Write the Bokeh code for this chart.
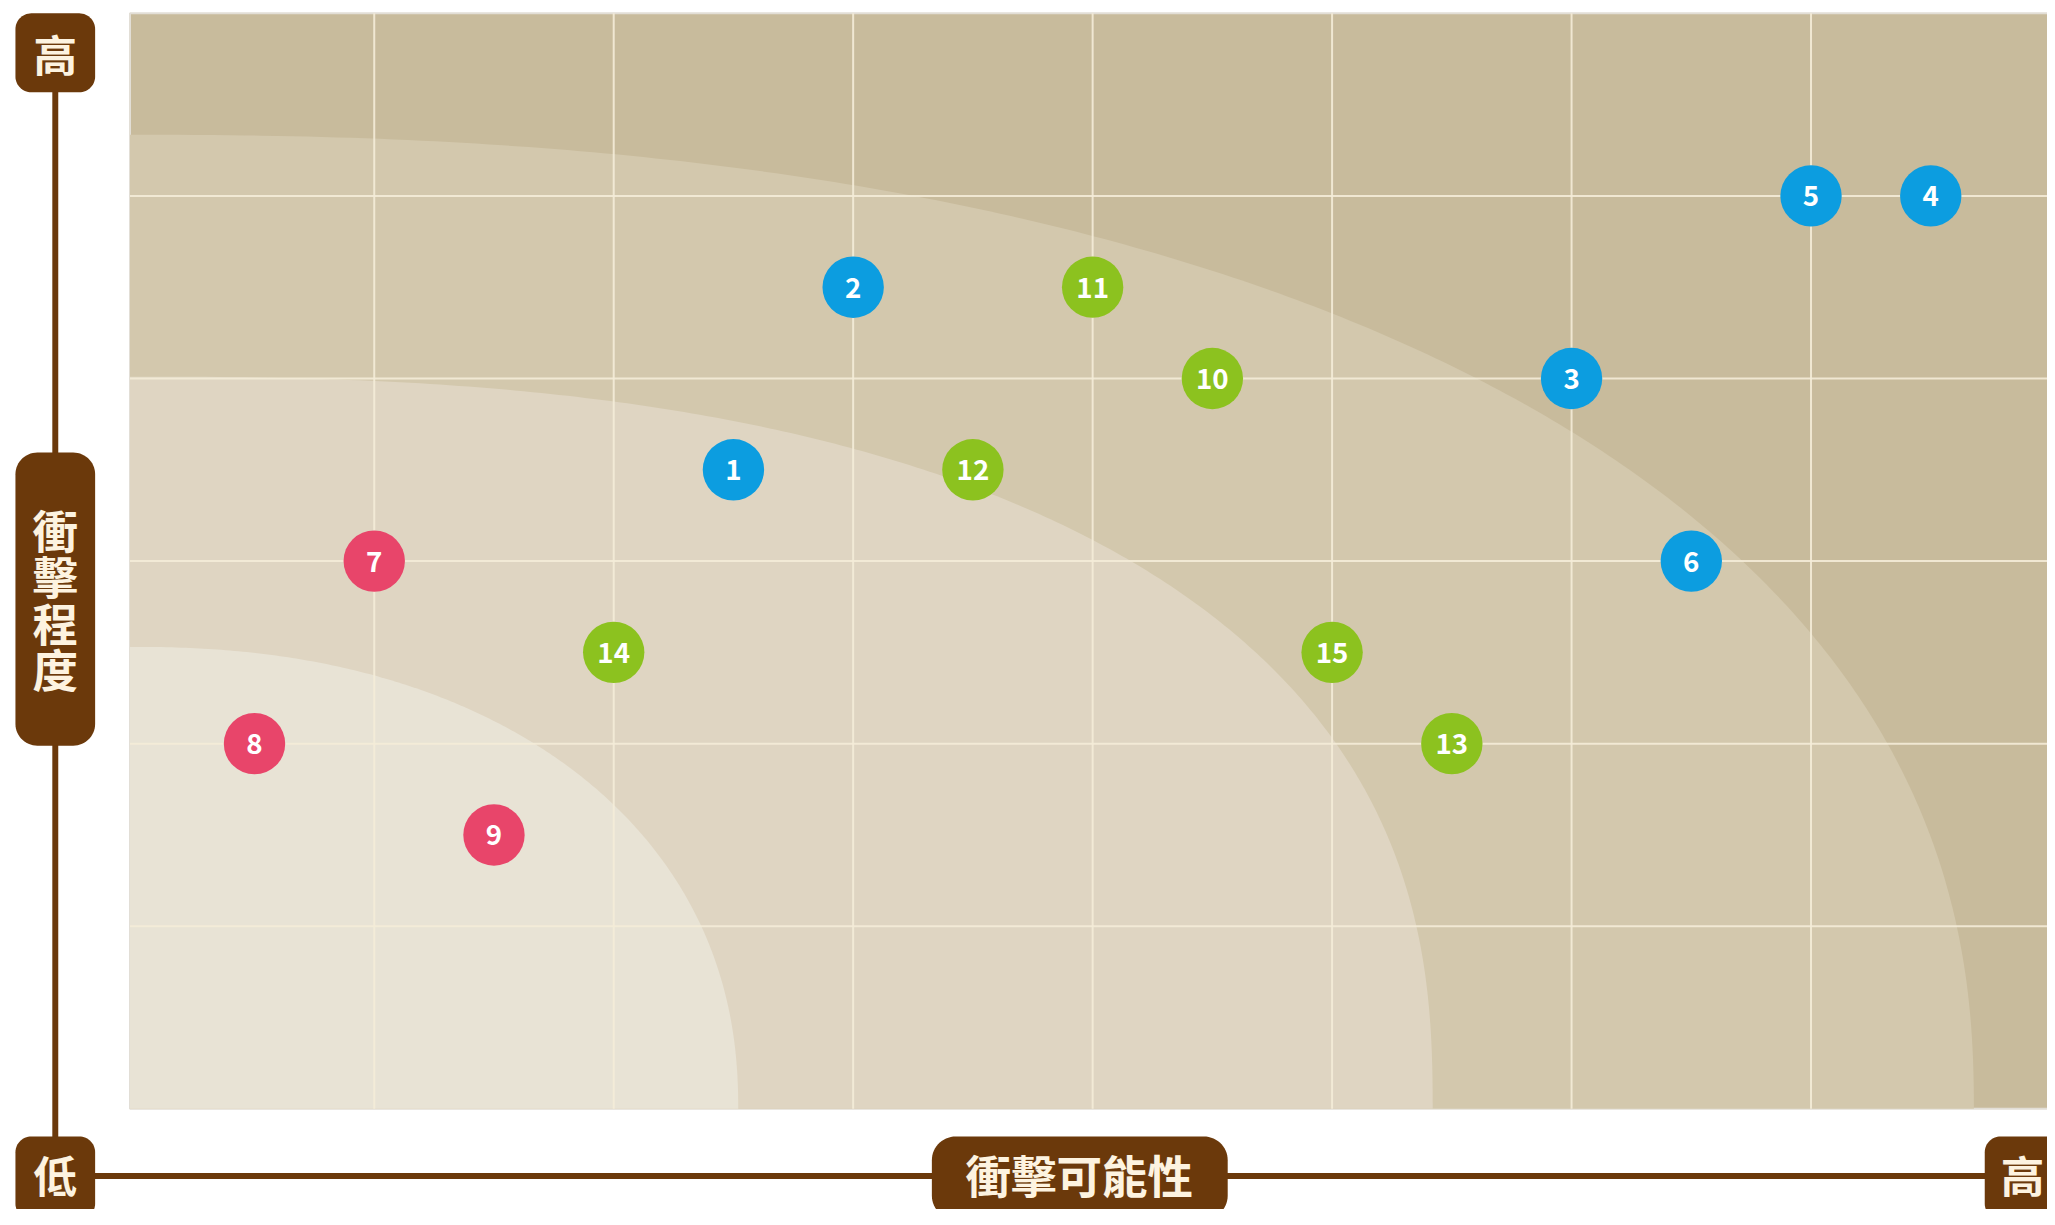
import numpy as np
from bokeh.plotting import figure
from bokeh.models import Range1d, ColumnDataSource
from bokeh.embed import file_html
from bokeh.resources import INLINE
from bokeh.core.properties import value

# ---------------- data ----------------
risk_ids = ["1", "2", "3", "4", "5", "6", "7", "8", "9", "10", "11", "12", "13", "14", "15"]
likelihood = [2.5, 3.0, 6.0, 7.5, 7.0, 6.5, 1.0, 0.5, 1.5, 4.5, 4.0, 3.5, 5.5, 2.0, 5.0]
impact = [3.5, 4.5, 4.0, 5.0, 5.0, 3.0, 3.0, 2.0, 1.5, 4.0, 4.5, 3.5, 2.0, 2.5, 2.5]
groups = ["blue", "blue", "blue", "blue", "blue", "blue", "red", "red", "red",
          "green", "green", "green", "green", "green", "green"]
x_ticks = [1, 2, 3, 4, 5, 6, 7]
y_ticks = [1, 2, 3, 4, 5]
x_max = 8
y_max = 6

y_axis_title = "衝擊程度"
x_axis_title = "衝擊可能性"
high_label = "高"
low_label = "低"

# ---------------- styling ----------------
group_colors = {"blue": "#0c9de0", "red": "#e8456a", "green": "#8cc21f"}
brown = "#6b390b"
cream = "#fdf3e0"
FONT = "Noto Sans CJK TC"

# design space (reference picture) and real figure size
REF_W, REF_H = 2055, 1225
W, H = 2047, 1209
S = 0.99  # size scaling for fonts / markers

# reference-space placement of the data grid
RX0, RXU = 134.8, 240.4   # ref px of data x=0, px per x unit
RY0, RYU = 1123.0, 185.0  # ref px (from top) of data y=0, px per y unit


def dx(rx):
    return (rx - RX0) / RXU


def dy(ry):
    return (RY0 - ry) / RYU


def fpx(v):
    return "%.1fpx" % (v * S)


p = figure(width=W, height=H, output_backend="svg", toolbar_location=None,
           x_range=Range1d(dx(0), dx(REF_W)),
           y_range=Range1d(dy(REF_H), dy(0)),
           x_axis_location=None, y_axis_location=None, min_border=0)
p.grid.visible = False
p.outline_line_color = None
p.background_fill_color = "white"
p.border_fill_color = "white"

left_edge = dx(130)

# plot area background (outermost band)
p.quad(left=[left_edge], right=[x_max + 0.2], bottom=[0], top=[y_max],
       fill_color="#c8bb9c", line_color="#e2ded6", line_width=2)

# concentric bands (superellipse quarters from the origin)
bands = [
    (7.68, 5.335, 2.3, "#d3c8ad"),
    (5.42, 4.01, 2.5, "#dfd5c2"),
    (2.52, 2.53, 2.2, "#e8e3d5"),
]
t = np.linspace(0, np.pi / 2, 240)
for a, b, n, col in bands:
    cx = a * np.cos(t) ** (2.0 / n)
    cy = b * np.sin(t) ** (2.0 / n)
    xs = np.concatenate([[left_edge], cx, [left_edge]])
    ys = np.concatenate([[0.0], cy, [b]])
    p.patch(xs, ys, fill_color=col, line_color=None)

# grid
grid_col = "#f4ecd8"
p.segment(x0=x_ticks, x1=x_ticks, y0=[0] * len(x_ticks), y1=[y_max] * len(x_ticks),
          line_color=grid_col, line_width=2, line_alpha=0.9)
p.segment(x0=[left_edge] * len(y_ticks), x1=[x_max + 0.2] * len(y_ticks), y0=y_ticks, y1=y_ticks,
          line_color=grid_col, line_width=2, line_alpha=0.9)

# axis lines
p.line([dx(55), dx(55)], [dy(53), dy(1191)], line_color=brown, line_width=6 * S)
p.line([dx(55), dx(2070)], [dy(1191), dy(1191)], line_color=brown, line_width=6 * S)


def rounded_box(l, t_, r, b, rad):
    xs, ys = [], []
    corners = [(r - rad, t_ + rad, -90, 0), (r - rad, b - rad, 0, 90),
               (l + rad, b - rad, 90, 180), (l + rad, t_ + rad, 180, 270)]
    for ccx, ccy, a0, a1 in corners:
        ang = np.radians(np.linspace(a0, a1, 16))
        xs.extend(ccx + rad * np.cos(ang))
        ys.extend(ccy + rad * np.sin(ang))
    return [dx(v) for v in xs], [dy(v) for v in ys]


boxes = [
    (15, 13, 95, 93, 16, high_label, 55, 53, 44, 1.0),
    (15, 458, 95, 755, 22, "\n".join(y_axis_title), 55, 606, 46, 0.70),
    (15, 1151, 95, 1235, 16, low_label, 55, 1189, 44, 1.0),
    (935, 1151, 1232, 1235, 24, x_axis_title, 1083, 1189, 46, 1.0),
    (1992, 1151, 2072, 1235, 16, high_label, 2030, 1189, 44, 1.0),
]
for l, t_, r, b, rad, txt, tx, ty, fs, lh in boxes:
    bx, by = rounded_box(l, t_, r, b, rad)
    p.patch(bx, by, fill_color=brown, line_color=None)
    p.text(x=[dx(tx)], y=[dy(ty)], text=[txt], text_color=cream,
           text_font=value(FONT), text_font_style="bold", text_font_size=fpx(fs),
           text_align="center", text_baseline="middle", text_line_height=lh)

# risk points
src = ColumnDataSource(dict(x=likelihood, y=impact, label=risk_ids,
                            color=[group_colors[g] for g in groups]))
p.scatter("x", "y", source=src, size=62 * S, fill_color="color", line_color=None)
p.text("x", "y", text="label", source=src, text_color="white",
       text_font=value(FONT), text_font_style="bold", text_font_size=fpx(28),
       text_align="center", text_baseline="middle")

open("out.html", "w").write(file_html(p, INLINE))
